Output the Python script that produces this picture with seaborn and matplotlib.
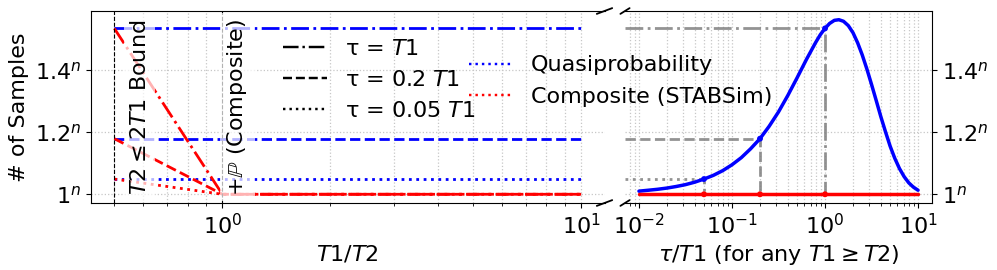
import matplotlib
matplotlib.use("Agg")
import matplotlib.pyplot as plt
import matplotlib.transforms as mtransforms
from matplotlib.lines import Line2D
from matplotlib.ticker import NullFormatter
import seaborn as sns

# ---------------- data ----------------
tau_labels = ["τ = $T1$", "τ = 0.2 $T1$", "τ = 0.05 $T1$"]
tau_ratio = [1.0, 0.2, 0.05]                 # tau / T1
quasi_cost = [1.534, 1.179, 1.049]           # quasiprobability cost per tau (base^n)
composite_at_tau = [1.0, 1.0, 1.0]           # composite (STABSim) cost per tau

series_labels = ["Quasiprobability", "Composite (STABSim)"]

# left panel: cost vs T1/T2
left_t1t2 = [0.5, 10.0]                      # quasiprobability horizontal lines
composite_t1t2 = [0.5, 1.0, 10.0]            # composite lines
composite_left = [
    [1.534, 1.0, 1.0],
    [1.179, 1.0, 1.0],
    [1.049, 1.0, 1.0],
]
bound_t1t2 = [0.5, 1.0]
bound_labels = ["$T2 \\leq 2T1$ Bound", "+$\\mathbb{P}$ (Composite)"]

# right panel: cost vs tau/T1
tau_grid = [0.01, 0.0126, 0.0158, 0.02, 0.0251, 0.0316, 0.0398, 0.05, 0.0631,
            0.0794, 0.1, 0.126, 0.158, 0.2, 0.251, 0.316, 0.398, 0.501, 0.631,
            0.794, 0.891, 1.0, 1.12, 1.26, 1.41, 1.58, 1.78, 2.0, 2.24, 2.51,
            2.82, 3.16, 3.55, 3.98, 4.47, 5.01, 5.62, 6.31, 7.08, 7.94, 8.91, 10.0]
quasi_curve = [1.010, 1.013, 1.016, 1.020, 1.025, 1.031, 1.039, 1.049, 1.061,
               1.076, 1.095, 1.118, 1.146, 1.179, 1.219, 1.265, 1.318, 1.375, 1.434,
               1.489, 1.514, 1.534, 1.550, 1.560, 1.562, 1.557, 1.543, 1.520, 1.488, 1.449,
               1.403, 1.354, 1.302, 1.250, 1.201, 1.155, 1.116, 1.083, 1.057, 1.037, 1.023, 1.013]
composite_x = [0.01, 10.0]
composite_curve = [1.0, 1.0]

ytick_vals = [1.0, 1.2, 1.4]
ytick_labels = ["$1^n$", "$1.2^n$", "$1.4^n$"]

# ---------------- style ----------------
tau_styles = ["-.", "--", ":"]
sns.set_theme(style="ticks")
plt.rcParams.update({
    "font.family": ["DejaVu Sans"],
    "mathtext.fontset": "dejavusans",
    "font.size": 16, "axes.labelsize": 16, "xtick.labelsize": 16,
    "ytick.labelsize": 16, "legend.fontsize": 16,
    "axes.linewidth": 0.8, "axes.edgecolor": "black",
    "xtick.color": "black", "ytick.color": "black", "text.color": "black",
    "axes.labelcolor": "black",
    "xtick.major.size": 3.5, "ytick.major.size": 3.5,
    "xtick.minor.size": 2.0, "ytick.minor.size": 2.0,
    "xtick.major.width": 0.8, "ytick.major.width": 0.8,
    "xtick.minor.width": 0.6, "ytick.minor.width": 0.6,
})

W, H = 997, 270
fig = plt.figure(figsize=(W / 100, H / 100), dpi=100)
ax1 = fig.add_axes([91 / W, 1 - 203 / H, (604.5 - 91) / W, 192 / H])
ax2 = fig.add_axes([625 / W, 1 - 203 / H, (932 - 625) / W, 192 / H], sharey=ax1)
for ax in (ax1, ax2):
    ax.set_xscale("log")

line_kw = dict(estimator=None, sort=False, legend=False)

# ---- left panel ----
for q, ls in zip(quasi_cost, tau_styles):
    sns.lineplot(x=left_t1t2, y=[q, q], ax=ax1, color="blue", linestyle=ls, lw=2, **line_kw)
for row, ls in zip(composite_left, tau_styles):
    sns.lineplot(x=composite_t1t2, y=row, ax=ax1, color="red", linestyle=ls, lw=2, **line_kw)
for xb in bound_t1t2:
    ax1.axvline(xb, color="black", ls="--", lw=0.8, zorder=3)
trans = mtransforms.blended_transform_factory(ax1.transData, ax1.transAxes)
for xb, lab, off in zip(bound_t1t2, bound_labels, [11, 2]):
    ax1.annotate(lab, xy=(xb, 0.5), xycoords=trans, xytext=(off, 0),
                 textcoords="offset points", rotation=90, ha="left", va="center",
                 fontsize=16, zorder=6,
                 bbox=dict(facecolor="white", alpha=0.7, edgecolor="none"))

# ---- right panel ----
sns.lineplot(x=tau_grid, y=quasi_curve, ax=ax2, color="blue", lw=2.5, zorder=4, **line_kw)
sns.lineplot(x=composite_x, y=composite_curve, ax=ax2, color="red", lw=2.5, zorder=4, **line_kw)
xlim2 = ax2.get_xlim()
for t, q, ls in zip(tau_ratio, quasi_cost, tau_styles):
    sns.lineplot(x=[xlim2[0], t, t], y=[q, q, composite_at_tau[0]], ax=ax2,
                 color="gray", alpha=0.85, linestyle=ls, lw=2, zorder=2, **line_kw)
sns.scatterplot(x=tau_ratio, y=quasi_cost, ax=ax2, color="blue", s=18,
                edgecolor="none", zorder=5, legend=False)
sns.scatterplot(x=tau_ratio, y=composite_at_tau, ax=ax2, color="red", s=18,
                edgecolor="none", zorder=5, legend=False)
ax2.set_xlim(xlim2)

# ---- axes cosmetics ----
ax1.set_yticks(ytick_vals, labels=ytick_labels)
for ax in (ax1, ax2):
    ax.xaxis.set_minor_formatter(NullFormatter())
    ax.grid(True, which="major", axis="both", ls=":", color="0.78", lw=0.9)
    ax.grid(True, which="minor", axis="x", ls=":", color="0.78", lw=0.9)
    ax.tick_params(axis="x", which="both", top=False)
ax1.spines["right"].set_visible(False)
ax2.spines["left"].set_visible(False)
ax1.tick_params(axis="y", right=False)
ax2.yaxis.tick_right()
ax2.tick_params(axis="y", left=False, labelleft=False, right=True, labelright=True)

ax1.set_ylabel("# of Samples")
ax1.set_xlabel("$T1/T2$")
ax2.set_xlabel("$\\tau/T1$ (for any $T1 \\geq T2$)")

# broken-axis marks
d = 0.015
mk = dict(color="black", clip_on=False, lw=1.3)
ax1.plot((1 - d, 1 + d), (-d, +d), transform=ax1.transAxes, **mk)
ax1.plot((1 - d, 1 + d), (1 - d, 1 + d), transform=ax1.transAxes, **mk)
ax2.plot((-d, +d), (-d, +d), transform=ax2.transAxes, **mk)
ax2.plot((-d, +d), (1 - d, 1 + d), transform=ax2.transAxes, **mk)

# ---- legends ----
style_handles = [Line2D([], [], color="black", ls=ls, lw=1.75) for ls in tau_styles]
fig.legend(style_handles, tau_labels, loc="center left",
           bbox_to_anchor=(263 / W, 1 - 80 / H), frameon=False)
color_handles = [Line2D([], [], color="blue", ls=":", lw=1.75),
                 Line2D([], [], color="red", ls=":", lw=1.75)]
fig.legend(color_handles, series_labels, loc="center left",
           bbox_to_anchor=(449 / W, 1 - 81 / H), frameon=False)

fig.savefig("out.png", dpi=100)
